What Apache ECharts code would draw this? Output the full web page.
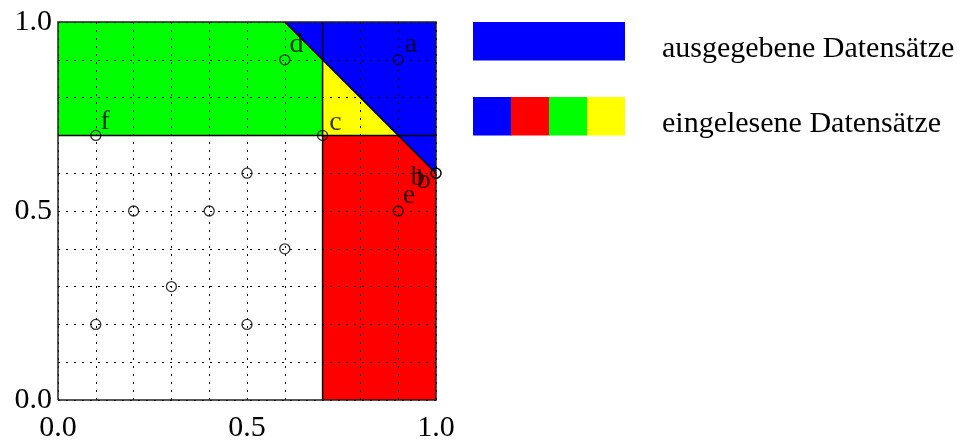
<!DOCTYPE html>
<html>
<head>
<meta charset="utf-8">
<script src="https://cdn.jsdelivr.net/npm/echarts@6/dist/echarts.min.js"></script>
<style>
  html, body { margin: 0; padding: 0; background: #fff; }
  #chart { width: 961px; height: 443px; }
</style>
</head>
<body>
<div id="chart"></div>
<script>
// Tick labels shown on both axes
const tickLabels = [0.0, 0.5, 1.0];

// Points of the key space
const pointX = [0.1, 0.6, 0.9, 0.7, 1.0, 1.0, 0.9, 0.5, 0.2, 0.4, 0.6, 0.3, 0.1, 0.5];
const pointY = [0.7, 0.9, 0.9, 0.7, 0.6, 0.6, 0.5, 0.6, 0.5, 0.5, 0.4, 0.3, 0.2, 0.2];
const pointNames = ['f', 'd', 'a', 'c', 'b', 'b', 'e', '', '', '', '', '', '', ''];

// Regions (polygons in data coordinates) and their fill colours
const regionNames = ['grün', 'gelb', 'blau', 'rot'];
const regionPolygons = [
  [[0, 0.7], [0.7, 0.7], [0.7, 0.9], [0.6, 1.0], [0, 1.0]],
  [[0.7, 0.7], [0.9, 0.7], [0.7, 0.9]],
  [[0.6, 1.0], [1.0, 1.0], [1.0, 0.6]],
  [[0.7, 0], [1.0, 0], [1.0, 0.6], [0.9, 0.7], [0.7, 0.7]]
];
const regionColors = ['#00ff00', '#ffff00', '#0000ff', '#ff0000'];

// Boundary lines between the regions
const boundaryLines = [
  [[0.7, 0], [0.7, 1.0]],
  [[0, 0.7], [1.0, 0.7]],
  [[0.6, 1.0], [1.0, 0.6]]
];
// Plot frame
const frameLine = [[0, 0], [1, 0], [1, 1], [0, 1], [0, 0]];

// Legend entries
const legendLabels = ['ausgegebene Datensätze', 'eingelesene Datensätze'];
const legendSwatches = [['#0000ff'], ['#0000ff', '#ff0000', '#00ff00', '#ffff00']];

const serif = '"Liberation Serif", "Times New Roman", serif';

// Per-label placement tweaks, keyed by point index
const labelOffsets = {
  0: [-6, -14], 1: [-6, -15], 2: [-4, -15], 3: [-4, -13],
  4: [-36, 4], 5: [-30, 7], 6: [-6, -15]
};

function fmtTick(v) {
  const hit = tickLabels.find(t => Math.abs(t - v) < 1e-9);
  return hit === undefined ? '' : hit.toFixed(1);
}

const chart = echarts.init(document.getElementById('chart'), null, { renderer: 'canvas' });

const gridLine = { show: true, lineStyle: { color: '#000', width: 1, type: [2, 6] } };

// Legend drawn as graphic elements
const graphics = [];
const legX = 473, legW = 152, legH = 38.5, legTops = [22, 97];
legendSwatches.forEach((cols, r) => {
  const w = legW / cols.length;
  cols.forEach((c, i) => {
    graphics.push({
      type: 'rect', silent: true,
      shape: { x: legX + i * w, y: legTops[r], width: w + (i < cols.length - 1 ? 0.5 : 0), height: legH },
      style: { fill: c }
    });
  });
  graphics.push({
    type: 'text', silent: true,
    x: 662, y: legTops[r] + 27,
    style: {
      text: legendLabels[r], fill: '#000',
      font: '30px ' + serif, verticalAlign: 'middle', align: 'left'
    }
  });
});

chart.setOption({
  animation: false,
  backgroundColor: '#fff',
  grid: { left: 58, top: 22, width: 378, height: 378, containLabel: false },
  xAxis: {
    type: 'value', min: 0, max: 1, interval: 0.1, z: 3,
    axisLine: { show: false }, axisTick: { show: false },
    splitLine: gridLine,
    axisLabel: {
      formatter: fmtTick, margin: 13, color: '#000',
      fontFamily: serif, fontSize: 30, showMinLabel: true, showMaxLabel: true
    }
  },
  yAxis: {
    type: 'value', min: 0, max: 1, interval: 0.1, z: 3,
    axisLine: { show: false }, axisTick: { show: false },
    splitLine: gridLine,
    axisLabel: {
      formatter: fmtTick, margin: 6, color: '#000',
      fontFamily: serif, fontSize: 30, showMinLabel: true, showMaxLabel: true
    }
  },
  graphic: graphics,
  series: [
    {
      // filled regions
      type: 'custom', z: 1, silent: true,
      data: regionNames.map((n, i) => [i]),
      encode: { x: 0, y: 0 },
      renderItem: function (params, api) {
        const poly = regionPolygons[params.dataIndex];
        return {
          type: 'polygon',
          shape: { points: poly.map(p => api.coord(p)) },
          style: { fill: regionColors[params.dataIndex], stroke: null }
        };
      }
    },
    {
      // boundary lines and frame
      type: 'custom', z: 5, silent: true,
      data: boundaryLines.concat([frameLine]).map((l, i) => [i]),
      encode: { x: 0, y: 0 },
      renderItem: function (params, api) {
        const all = boundaryLines.concat([frameLine]);
        const pts = all[params.dataIndex].map(p => api.coord(p));
        const isFrame = params.dataIndex === all.length - 1;
        return {
          type: 'polyline',
          shape: { points: pts },
          style: { stroke: isFrame ? '#222' : '#000', lineWidth: 1.5, fill: null }
        };
      }
    },
    {
      type: 'scatter', z: 6, silent: true,
      symbol: 'circle', symbolSize: 10,
      itemStyle: { color: 'rgba(0,0,0,0)', borderColor: '#000', borderWidth: 1.3 },
      data: pointX.map((x, i) => ({
        value: [x, pointY[i]],
        label: {
          show: pointNames[i] !== '',
          formatter: pointNames[i],
          position: 'right',
          offset: labelOffsets[i] || [0, 0]
        }
      })),
      label: { color: '#000', fontFamily: serif, fontSize: 28 }
    }
  ]
});
</script>
</body>
</html>
